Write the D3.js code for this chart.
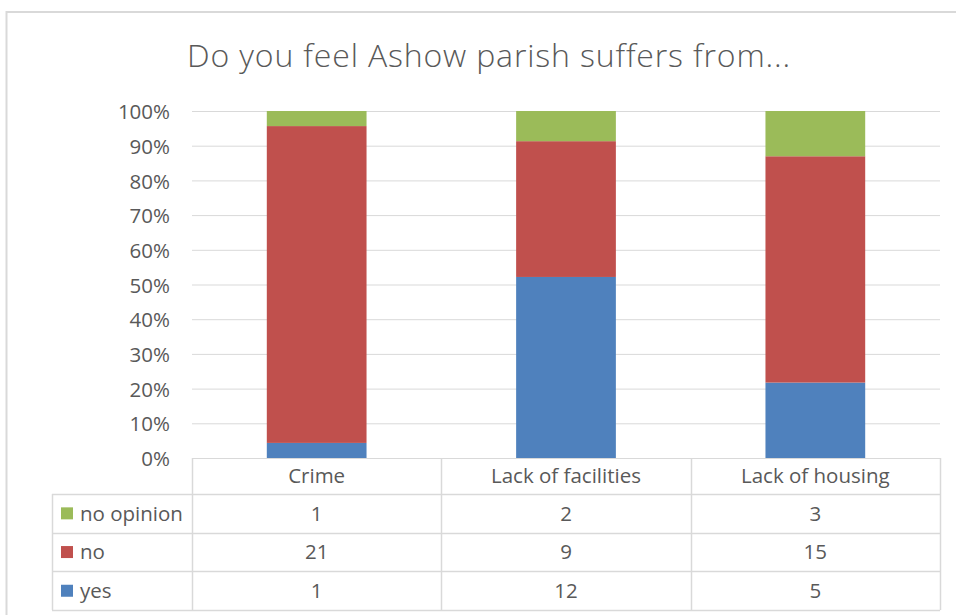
<!DOCTYPE html>
<html>
<head>
<meta charset="utf-8">
<script src="https://cdn.jsdelivr.net/npm/d3@7"></script>
<style>
  html, body { margin: 0; padding: 0; background: #fff; }
  svg { display: block; }
  text { font-family: "Open Sans", Lato, sans-serif; fill: #595959; }
</style>
</head>
<body>
<svg id="chart" width="956" height="615"></svg>
<script>
// Survey answers per question
const categories = ["Crime", "Lack of facilities", "Lack of housing"];
const seriesNames = ["yes", "no", "no opinion"];
const yesValues = [1, 12, 5];
const noValues = [21, 9, 15];
const noOpinionValues = [1, 2, 3];
const seriesColors = ["#4F81BD", "#C0504D", "#9BBB59"];
const tickValues = [0, 0.1, 0.2, 0.3, 0.4, 0.5, 0.6, 0.7, 0.8, 0.9, 1];
const titleText = "Do you feel Ashow parish suffers from...";

const rows = categories.map((c, i) => ({
  category: c,
  "yes": yesValues[i],
  "no": noValues[i],
  "no opinion": noOpinionValues[i]
}));

const svg = d3.select("#chart");
const labelSize = "20.5px";

// outer chart frame
svg.append("rect")
  .attr("x", 6.5).attr("y", 12)
  .attr("width", 1000).attr("height", 700)
  .attr("fill", "#fff")
  .attr("stroke", "#d9d9d9").attr("stroke-width", 2);

// title
svg.append("text")
  .attr("x", 489).attr("y", 67)
  .attr("text-anchor", "middle")
  .style("font-size", "32px")
  .style("font-weight", 300)
  .style("letter-spacing", "0.85px")
  .text(titleText);

const plot = { left: 192, right: 940, top: 111, bottom: 458 };

const x = d3.scaleBand()
  .domain(categories)
  .range([plot.left, plot.right])
  .paddingInner(0).paddingOuter(0);

const y = d3.scaleLinear()
  .domain([0, 1])
  .range([plot.bottom, plot.top]);

// horizontal gridlines
svg.append("g")
  .selectAll("line")
  .data(tickValues)
  .join("line")
  .attr("x1", plot.left).attr("x2", plot.right)
  .attr("y1", d => y(d) + 0.5).attr("y2", d => y(d) + 0.5)
  .attr("stroke", "#d9d9d9").attr("stroke-width", 1);

// y axis labels
const yAxis = d3.axisLeft(y)
  .tickValues(tickValues)
  .tickFormat(d3.format(".0%"))
  .tickSize(0).tickPadding(22);
const yg = svg.append("g")
  .attr("transform", `translate(${plot.left},0.5)`)
  .call(yAxis);
yg.select(".domain").remove();
yg.selectAll("text")
  .style("font-size", labelSize)
  .style("font-family", "\"Open Sans\", Lato, sans-serif")
  .attr("dy", "0.35em")
  .style("fill", "#595959");

// 100% stacked columns
const stack = d3.stack()
  .keys(seriesNames)
  .offset(d3.stackOffsetExpand);
const stacked = stack(rows);

const barWidth = x.bandwidth() * 0.4;
svg.append("g")
  .selectAll("g")
  .data(stacked)
  .join("g")
  .attr("fill", (d, i) => seriesColors[i])
  .selectAll("rect")
  .data(d => d)
  .join("rect")
  .attr("x", d => x(d.data.category) + (x.bandwidth() - barWidth) / 2)
  .attr("width", barWidth)
  .attr("y", d => y(d[1]))
  .attr("height", d => y(d[0]) - y(d[1]));

// data table below the plot
const table = { left: 52, headerTop: 458, headerBottom: 494, rowH: 38.7 };
const tableRows = [
  { name: "no opinion", values: noOpinionValues, color: seriesColors[2] },
  { name: "no", values: noValues, color: seriesColors[1] },
  { name: "yes", values: yesValues, color: seriesColors[0] }
];
const tableBottom = table.headerBottom + table.rowH * tableRows.length;
const tg = svg.append("g");
const lineColor = "#d9d9d9";

// vertical table lines at category band edges
const colEdges = categories.map(c => x(c)).concat([plot.right]);
tg.selectAll("line.col")
  .data(colEdges)
  .join("line")
  .attr("class", "col")
  .attr("x1", d => Math.round(d) + 0.5).attr("x2", d => Math.round(d) + 0.5)
  .attr("y1", table.headerTop).attr("y2", tableBottom)
  .attr("stroke", lineColor).attr("stroke-width", 1.5);

// left edge of the series-name column
tg.append("line")
  .attr("x1", table.left + 0.5).attr("x2", table.left + 0.5)
  .attr("y1", table.headerBottom).attr("y2", tableBottom)
  .attr("stroke", lineColor).attr("stroke-width", 1.5);

// horizontal table lines
const rowEdges = d3.range(tableRows.length + 1).map(i => table.headerBottom + i * table.rowH);
tg.selectAll("line.row")
  .data(rowEdges)
  .join("line")
  .attr("class", "row")
  .attr("x1", table.left).attr("x2", plot.right)
  .attr("y1", d => Math.round(d) + 0.5).attr("y2", d => Math.round(d) + 0.5)
  .attr("stroke", lineColor).attr("stroke-width", 1.5);

// header: category names
tg.selectAll("text.cat")
  .data(categories)
  .join("text")
  .attr("class", "cat")
  .attr("x", d => x(d) + x.bandwidth() / 2)
  .attr("y", (table.headerTop + table.headerBottom) / 2)
  .attr("dy", "0.35em")
  .attr("text-anchor", "middle")
  .style("font-size", labelSize)
  .text(d => d);

// series rows: legend key, name and values
tableRows.forEach((r, ri) => {
  const cy = table.headerBottom + table.rowH * (ri + 0.5);
  tg.append("rect")
    .attr("x", 61).attr("y", cy - 6)
    .attr("width", 12).attr("height", 12)
    .attr("fill", r.color);
  tg.append("text")
    .attr("x", 80).attr("y", cy)
    .attr("dy", "0.35em")
    .style("font-size", labelSize)
    .text(r.name);
  tg.selectAll(null)
    .data(r.values)
    .join("text")
    .attr("x", (d, i) => x(categories[i]) + x.bandwidth() / 2)
    .attr("y", cy)
    .attr("dy", "0.35em")
    .attr("text-anchor", "middle")
    .style("font-size", labelSize)
    .text(d => d);
});
</script>
</body>
</html>
